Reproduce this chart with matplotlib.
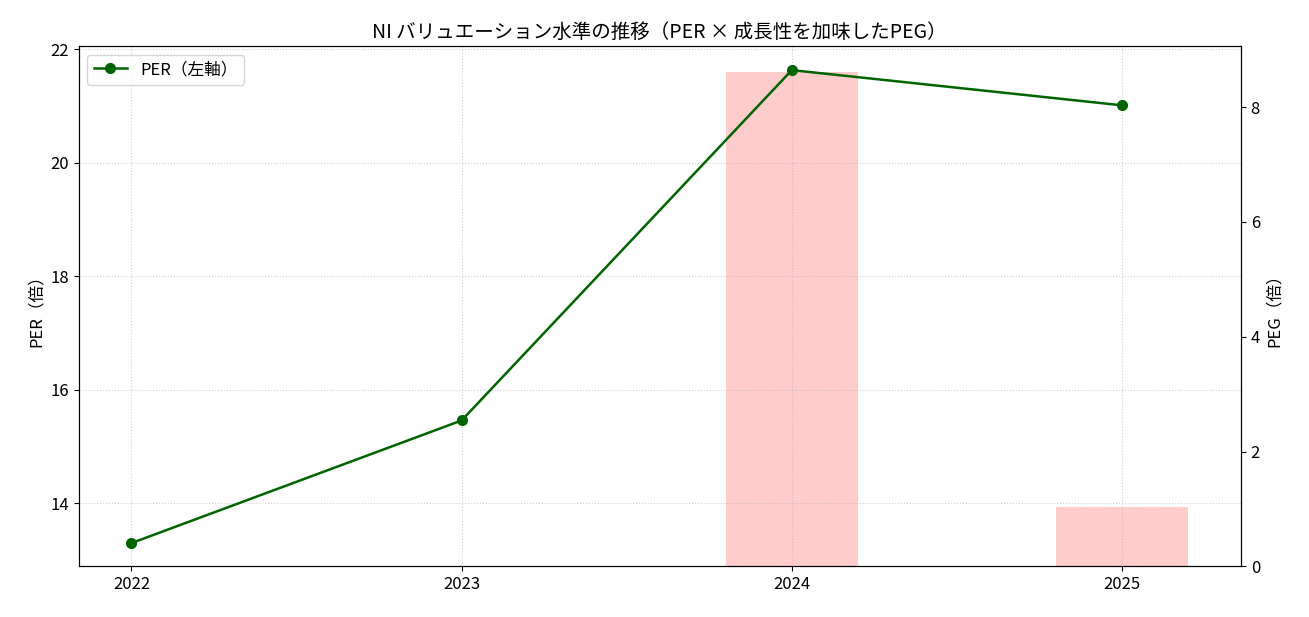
import matplotlib
matplotlib.use("Agg")
import matplotlib.pyplot as plt
import numpy as np

plt.rcParams['font.family'] = ['Noto Sans CJK JP', 'DejaVu Sans']

years = [2022, 2023, 2024, 2025]
per = [13.30, 15.46, 21.63, 21.01]
peg = [np.nan, np.nan, 8.62, 1.03]

fig, ax1 = plt.subplots(figsize=(13.09, 6.17), dpi=100)
ax2 = ax1.twinx()
ax2.bar(years, peg, width=0.4, color='#ffcccc')
ax2.set_ylim(0, 9.06)
ax2.set_ylabel('PEG（倍）', fontsize=12)

ax1.set_zorder(ax2.get_zorder() + 1)
ax1.patch.set_visible(False)
ax1.plot(years, per, marker='o', color='darkgreen', linewidth=1.8, markersize=7, label='PER（左軸）')
ax1.set_ylim(12.89, 22.05)
ax1.set_xlim(2021.84, 2025.36)
ax1.set_xticks(years)
ax1.set_xticklabels([str(y) for y in years])
ax1.set_ylabel('PER（倍）', fontsize=12)
ax1.grid(True, linestyle=':', alpha=0.6)
ax1.legend(loc='upper left', fontsize=12)
ax1.tick_params(labelsize=12)
ax2.tick_params(labelsize=12)
ax1.set_title('NI バリュエーション水準の推移（PER × 成長性を加味したPEG）', fontsize=14)

fig.subplots_adjust(left=0.06, right=0.948, top=0.925, bottom=0.082)
fig.savefig('out.png', dpi=100)
